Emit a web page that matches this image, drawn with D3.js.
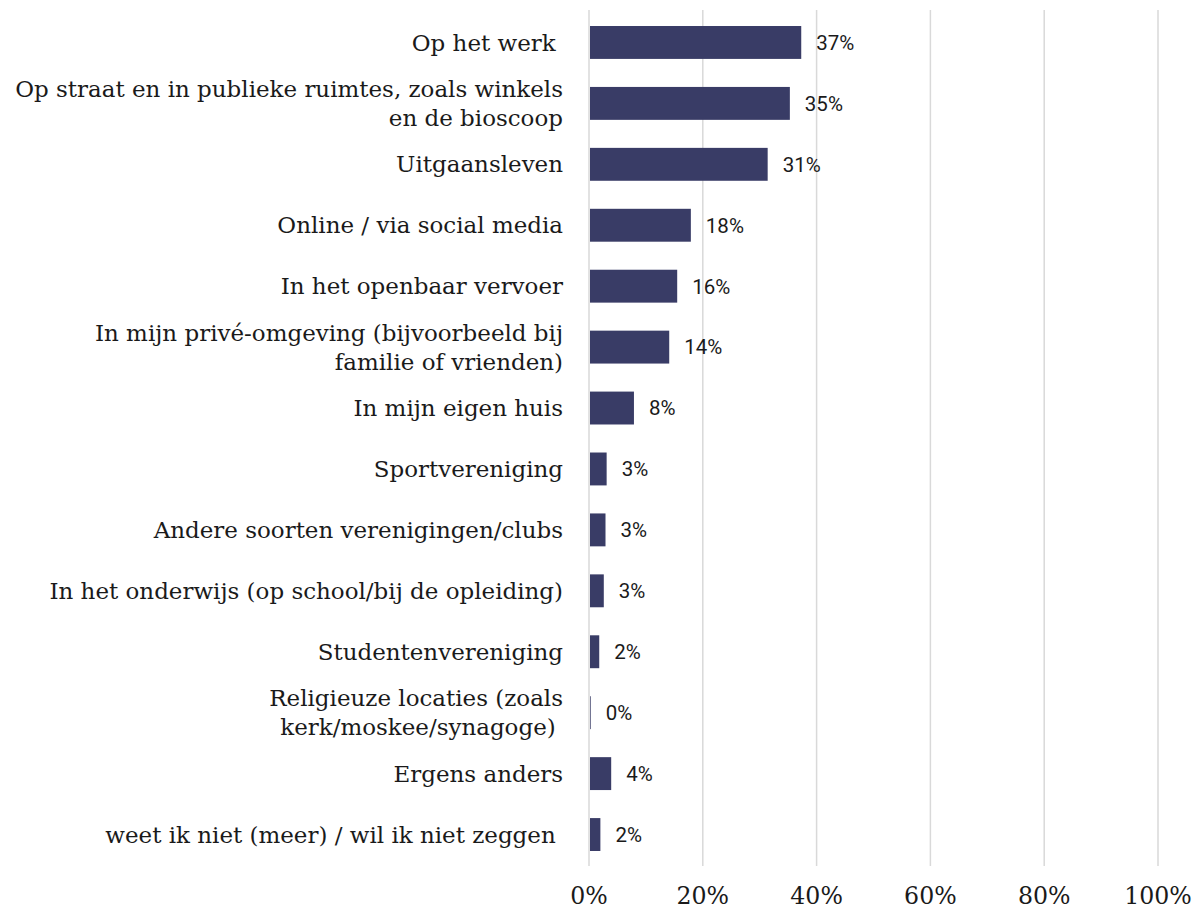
<!DOCTYPE html>
<html><head><meta charset="utf-8">
<script src="https://cdn.jsdelivr.net/npm/d3@7"></script>
<style>
html,body{margin:0;padding:0;background:#fff;}
svg{display:block;}
</style></head>
<body>
<svg id="chart" width="1200" height="909"></svg>
<script>
const categories = [
  "Op het werk ",
  "Op straat en in publieke ruimtes, zoals winkels\nen de bioscoop",
  "Uitgaansleven",
  "Online / via social media",
  "In het openbaar vervoer",
  "In mijn privé-omgeving (bijvoorbeeld bij\nfamilie of vrienden)",
  "In mijn eigen huis",
  "Sportvereniging",
  "Andere soorten verenigingen/clubs",
  "In het onderwijs (op school/bij de opleiding)",
  "Studentenvereniging",
  "Religieuze locaties (zoals\nkerk/moskee/synagoge) ",
  "Ergens anders",
  "weet ik niet (meer) / wil ik niet zeggen "
];
const values = [37.3, 35.3, 31.4, 17.9, 15.5, 14.1, 7.9, 3.1, 2.9, 2.6, 1.8, 0.3, 3.9, 2.0];
const valueLabels = ["37%","35%","31%","18%","16%","14%","8%","3%","3%","3%","2%","0%","4%","2%"];
const xTicks = [0, 20, 40, 60, 80, 100];

const svg = d3.select("#chart");
const serif = "'DejaVu Serif', serif";
const sans = "Roboto, 'Liberation Sans', sans-serif";

const x = d3.scaleLinear().domain([0, 100]).range([589, 1158]);
const y = d3.scaleBand().domain(d3.range(categories.length)).range([12, 865]).paddingInner(0.46).paddingOuter(0.23);

// gridlines
svg.append("g").selectAll("line").data(xTicks).join("line")
  .attr("x1", d => x(d)).attr("x2", d => x(d))
  .attr("y1", 10).attr("y2", 866)
  .attr("stroke", "#d9d9d9").attr("stroke-width", 1.5);

// bars
svg.append("g").selectAll("rect").data(values).join("rect")
  .attr("x", x(0) + 1)
  .attr("y", (d, i) => y(i))
  .attr("width", d => Math.max(0, x(d) - x(0) - 1))
  .attr("height", y.bandwidth())
  .attr("fill", "#393c66");

// value labels
svg.append("g").selectAll("text").data(values).join("text")
  .attr("x", d => x(d) + 15)
  .attr("y", (d, i) => y(i) + y.bandwidth() / 2)
  .attr("dy", "0.36em")
  .attr("font-family", sans).attr("font-size", 20.5)
  .attr("fill", "#1a1a1a")
  .text((d, i) => valueLabels[i]);

// category labels
const lab = svg.append("g").attr("font-family", serif).attr("fill", "#1a1a1a")
  .attr("text-anchor", "end");
const baseSize = 20;
const lineH = 29;
const labs = lab.selectAll("text").data(categories).join("text")
  .attr("font-size", baseSize)
  .attr("xml:space", "preserve")
  .style("white-space", "pre")
  .attr("transform", (d, i) => `translate(563,${y(i) + y.bandwidth() / 2})`);
labs.each(function(d) {
  const lines = d.split("\n");
  const t = d3.select(this);
  lines.forEach((l, k) => {
    t.append("tspan").attr("x", 0)
      .attr("y", (k - (lines.length - 1) / 2) * lineH)
      .attr("dy", "0.35em")
      .style("white-space", "pre")
      .text(l);
  });
});
// fit font so longest line spans like reference
let maxW = 0;
labs.selectAll("tspan").each(function() {
  if (this.textContent.startsWith("Op straat")) maxW = this.getComputedTextLength();
});
const fs = maxW > 0 ? baseSize * 548 / maxW : baseSize;
labs.attr("font-size", fs);

// x axis tick labels
svg.append("g").selectAll("text").data(xTicks).join("text")
  .attr("x", d => x(d)).attr("y", 896).attr("dy", "0.35em")
  .attr("text-anchor", "middle")
  .attr("font-family", serif).attr("font-size", fs * 1.03)
  .attr("fill", "#1a1a1a")
  .text(d => d + "%");
</script>
</body></html>
